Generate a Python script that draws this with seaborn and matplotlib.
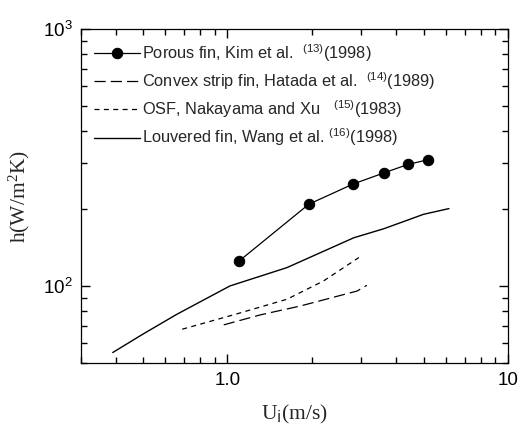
"""
Heat transfer coefficient h versus inlet velocity for several fin types,
log-log chart redrawn with seaborn.
"""

import matplotlib
matplotlib.use("Agg")
import matplotlib.pyplot as plt
import matplotlib.ticker as mticker
import pandas as pd
import seaborn as sns

# Porous fin, Kim et al. (1998)
porous_u = [1.1, 1.95, 2.8, 3.6, 4.4, 5.2]
porous_h = [125, 208, 249, 275, 297, 310]

# Convex strip fin, Hatada et al. (1989)
convex_u = [0.97, 1.31, 1.82, 2.9, 3.14]
convex_h = [70.6, 77.2, 83.6, 95.6, 100.6]

# OSF, Nakayama and Xu (1983)
osf_u = [0.69, 1.05, 1.63, 2.2, 2.94]
osf_h = [67.9, 77.2, 88.8, 104.6, 129]

# Louvered fin, Wang et al. (1998)
louver_u = [0.39, 0.5, 0.66, 1.02, 1.63, 2.82, 3.61, 5.0, 6.16]
louver_h = [55.1, 65, 77.6, 100, 117.9, 154, 167, 190, 200]

labels = ["Porous fin, Kim et al.  $^{(13)}$(1998)",
          "Convex strip fin, Hatada et al.  $^{(14)}$(1989)",
          "OSF, Nakayama and Xu   $^{(15)}$(1983)",
          "Louvered fin, Wang et al. $^{(16)}$(1998)"]

x_ticks = [1, 10]
x_tick_labels = ["1.0", "10"]
y_ticks = [100, 1000]
y_tick_labels = ["$10^2$", "$10^3$"]

sns.set_theme(style="ticks")
plt.rcParams["font.family"] = ["Liberation Sans", "DejaVu Sans"]
plt.rcParams["mathtext.default"] = "regular"


def make_frame(u, h):
    return pd.DataFrame({"U": u, "h": h})


def main():
    fig = plt.figure(figsize=(5.21, 4.25), dpi=100)
    ax = fig.add_axes([0.155, 0.145, 0.82, 0.787])

    sns.lineplot(data=make_frame(porous_u, porous_h), x="U", y="h", ax=ax,
                 color="black", lw=0.9, marker="o", markersize=7.5,
                 markeredgecolor="black", sort=False, estimator=None,
                 label=labels[0])
    sns.lineplot(data=make_frame(convex_u, convex_h), x="U", y="h", ax=ax,
                 color="black", lw=0.9, linestyle=(0, (9, 4)),
                 sort=False, estimator=None, label=labels[1])
    sns.lineplot(data=make_frame(osf_u, osf_h), x="U", y="h", ax=ax,
                 color="black", lw=0.9, linestyle=(0, (4, 3.5)),
                 sort=False, estimator=None, label=labels[2])
    sns.lineplot(data=make_frame(louver_u, louver_h), x="U", y="h", ax=ax,
                 color="black", lw=1.0, sort=False, estimator=None,
                 label=labels[3])

    ax.set_xscale("log")
    ax.set_yscale("log")
    ax.set_xlim(0.3, 10)
    ax.set_ylim(50, 1000)

    ax.xaxis.set_major_locator(mticker.FixedLocator(x_ticks))
    ax.xaxis.set_major_formatter(mticker.FixedFormatter(x_tick_labels))
    ax.yaxis.set_major_locator(mticker.FixedLocator(y_ticks))
    ax.yaxis.set_major_formatter(mticker.FixedFormatter(y_tick_labels))
    ax.xaxis.set_minor_locator(mticker.LogLocator(subs=range(2, 10)))
    ax.yaxis.set_minor_locator(mticker.LogLocator(subs=range(2, 10)))
    ax.xaxis.set_minor_formatter(mticker.NullFormatter())
    ax.yaxis.set_minor_formatter(mticker.NullFormatter())

    ax.tick_params(which="both", direction="in", bottom=True, left=True,
                   top=True, right=True, colors="black", width=1.0)
    ax.tick_params(which="major", length=6.5, labelsize=13.5, pad=6)
    ax.tick_params(which="minor", length=4)
    for sp in ax.spines.values():
        sp.set_visible(True)
        sp.set_color("black")
        sp.set_linewidth(0.9)

    ax.set_xlabel("U$_{\\rm i}$(m/s)", family="Liberation Serif",
                  fontsize=15.5, labelpad=10)
    ax.set_ylabel("h(W/m$^2$K)", family="Liberation Serif",
                  fontsize=15.5, labelpad=8)

    ax.legend(loc="upper left", frameon=False, fontsize=11.8,
              handlelength=2.8, handletextpad=0.15, labelspacing=0.4,
              borderaxespad=0.4, bbox_to_anchor=(0.0, 1.0))

    fig.savefig("out.png", dpi=100)


if __name__ == "__main__":
    main()
